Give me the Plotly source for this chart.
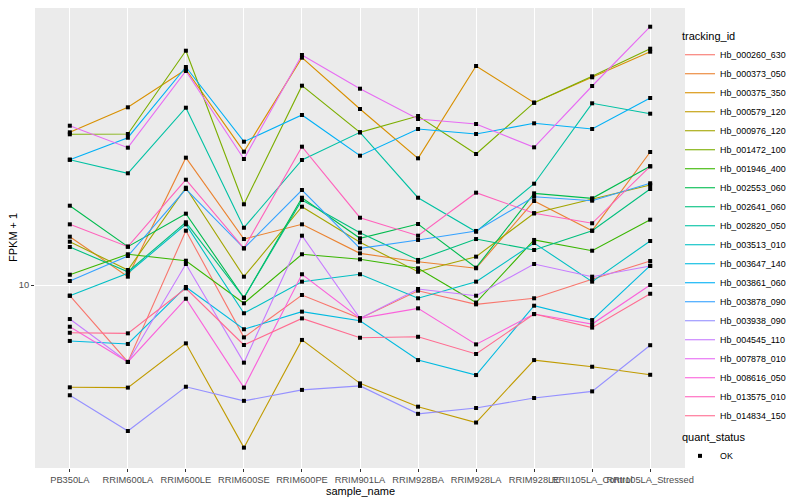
import plotly.graph_objects as go

samples = ["PB350LA", "RRIM600LA", "RRIM600LE", "RRIM600SE", "RRIM600PE", "RRIM901LA",
           "RRIM928BA", "RRIM928LA", "RRIM928LE", "RRII105LA_Control", "RRII105LA_Stressed"]

Hb_000260_630 = [9.21, 5.54, 15.17, 6.69, 9.26, 7.74, 9.57, 8.62, 9.03, 10.45, 12.02]
Hb_000373_050 = [14.49, 10.66, 26.57, 14.23, 15.93, 12.75, 11.96, 11.37, 19.05, 15.17, 27.75]
Hb_000375_350 = [32.28, 39.11, 52.28, 27.82, 57.24, 38.61, 26.44, 53.70, 40.52, 49.24, 59.93]
Hb_000579_120 = [4.56, 4.55, 6.39, 2.87, 6.56, 4.70, 3.93, 3.48, 5.62, 5.34, 5.02]
Hb_000976_120 = [13.94, 11.22, 21.10, 10.66, 18.24, 13.88, 11.07, 12.43, 17.34, 19.31, 21.54]
Hb_001472_100 = [31.79, 31.87, 60.39, 18.58, 46.17, 32.28, 36.59, 27.33, 40.52, 49.62, 61.33]
Hb_001946_400 = [10.82, 12.66, 12.05, 8.69, 12.66, 12.18, 11.37, 8.74, 14.13, 13.01, 16.51]
Hb_002553_060 = [18.38, 13.42, 17.29, 9.07, 19.54, 14.31, 15.97, 11.42, 20.21, 19.45, 24.87]
Hb_002641_060 = [13.39, 11.07, 16.18, 9.07, 19.20, 14.94, 12.12, 14.23, 13.08, 15.17, 20.89]
Hb_002820_050 = [26.16, 23.57, 38.99, 15.52, 26.10, 32.28, 19.54, 15.05, 21.76, 40.33, 37.24]
Hb_003513_010 = [9.21, 10.94, 15.93, 8.05, 10.26, 10.86, 9.03, 10.26, 13.80, 10.26, 14.02]
Hb_003647_140 = [6.51, 6.36, 9.85, 7.12, 8.15, 7.60, 5.62, 5.01, 8.53, 7.64, 11.60]
Hb_003861_060 = [26.16, 30.97, 53.29, 30.04, 36.87, 26.98, 33.11, 31.87, 34.59, 33.11, 42.01]
Hb_003878_090 = [10.31, 12.49, 20.89, 13.25, 20.73, 13.25, 14.13, 15.14, 19.69, 19.10, 21.83]
Hb_003938_090 = [4.29, 3.26, 4.58, 4.11, 4.47, 4.61, 3.72, 3.89, 4.20, 4.42, 6.30]
Hb_004545_110 = [7.70, 5.54, 11.75, 5.51, 14.60, 7.74, 9.70, 9.21, 11.75, 10.66, 11.57]
Hb_007878_010 = [33.96, 28.69, 51.68, 26.30, 58.43, 45.12, 35.75, 34.41, 28.77, 46.06, 72.61]
Hb_008616_050 = [7.26, 5.54, 9.00, 4.55, 10.86, 7.74, 8.36, 6.34, 8.00, 7.41, 10.00]
Hb_013575_010 = [15.93, 13.42, 22.44, 13.25, 28.91, 16.76, 14.60, 20.31, 17.34, 16.06, 24.87]
Hb_014834_150 = [6.93, 6.90, 9.75, 6.31, 7.74, 6.67, 6.72, 5.89, 8.00, 7.21, 9.35]

series = [
    ("Hb_000260_630", Hb_000260_630, "#F8766D"),
    ("Hb_000373_050", Hb_000373_050, "#EA8331"),
    ("Hb_000375_350", Hb_000375_350, "#D89000"),
    ("Hb_000579_120", Hb_000579_120, "#C09B00"),
    ("Hb_000976_120", Hb_000976_120, "#A3A500"),
    ("Hb_001472_100", Hb_001472_100, "#7CAE00"),
    ("Hb_001946_400", Hb_001946_400, "#39B600"),
    ("Hb_002553_060", Hb_002553_060, "#00BB4E"),
    ("Hb_002641_060", Hb_002641_060, "#00BF7D"),
    ("Hb_002820_050", Hb_002820_050, "#00C1A3"),
    ("Hb_003513_010", Hb_003513_010, "#00BFC4"),
    ("Hb_003647_140", Hb_003647_140, "#00BAE0"),
    ("Hb_003861_060", Hb_003861_060, "#00B0F6"),
    ("Hb_003878_090", Hb_003878_090, "#35A2FF"),
    ("Hb_003938_090", Hb_003938_090, "#9590FF"),
    ("Hb_004545_110", Hb_004545_110, "#C77CFF"),
    ("Hb_007878_010", Hb_007878_010, "#E76BF3"),
    ("Hb_008616_050", Hb_008616_050, "#FA62DB"),
    ("Hb_013575_010", Hb_013575_010, "#FF62BC"),
    ("Hb_014834_150", Hb_014834_150, "#FF6C91"),
]

FONT = "Liberation Sans, Arial, sans-serif"

fig = go.Figure()
for name, vals, col in series:
    fig.add_trace(go.Scatter(x=samples, y=vals, mode="lines", name=name,
                             line=dict(color=col, width=1.1), legend="legend",
                             hoverinfo="skip"))
for i, (name, vals, col) in enumerate(series):
    fig.add_trace(go.Scatter(x=samples, y=vals, mode="markers", name="OK",
                             marker=dict(symbol="square", size=4, color="black"),
                             showlegend=(i == 0), legend="legend2", hoverinfo="skip"))

fig.update_layout(
    width=800, height=500,
    margin=dict(l=27, r=123, t=0, b=40, autoexpand=False),
    paper_bgcolor="white", plot_bgcolor="#EBEBEB",
    font=dict(family=FONT, size=9, color="black"),
    xaxis=dict(type="category", categoryorder="array", categoryarray=samples,
               range=[-0.6, 10.6], showgrid=True, gridcolor="white", gridwidth=1.1,
               zeroline=False, showline=False, ticks="outside", ticklen=3, tickwidth=1,
               tickangle=0, automargin=False,
               tickcolor="#333333", tickfont=dict(family=FONT, size=9.3, color="#4D4D4D")),
    yaxis=dict(type="log", range=[0.39, 1.92333], tickvals=[10], ticktext=["10"],
               showgrid=True, gridcolor="white", gridwidth=1.1, zeroline=False, showline=False,
               ticks="outside", ticklen=3, tickwidth=1, tickcolor="#333333", automargin=False,
               tickfont=dict(family=FONT, size=9.3, color="#4D4D4D")),
    legend=dict(x=0.9923, y=0.961, xanchor="left", yanchor="top",
                title=dict(text="tracking_id", font=dict(family=FONT, size=11)),
                font=dict(family=FONT, size=8.9), bgcolor="rgba(0,0,0,0)",
                tracegroupgap=0, itemwidth=30),
    legend2=dict(x=0.9923, y=0.089, xanchor="left", yanchor="top",
                 title=dict(text="quant_status", font=dict(family=FONT, size=11)),
                 font=dict(family=FONT, size=8.9), bgcolor="rgba(0,0,0,0)", itemwidth=30),
    annotations=[
        dict(text="sample_name", xref="paper", yref="paper", x=0.5, y=0, yshift=-22.5,
             xanchor="center", yanchor="middle", showarrow=False,
             font=dict(family=FONT, size=11, color="black")),
        dict(text="FPKM + 1", xref="paper", yref="paper", x=0, y=0.5, xshift=-22,
             xanchor="center", yanchor="middle", textangle=-90, showarrow=False,
             font=dict(family=FONT, size=11, color="black")),
    ],
)

fig.write_html("out.html")
